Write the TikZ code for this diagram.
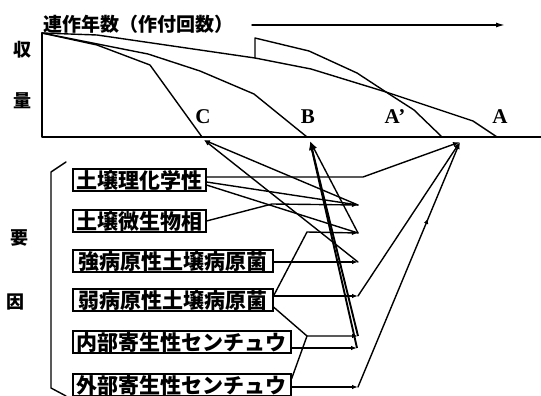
\documentclass[tikz,border=0pt]{standalone}
\usepackage{fontspec}
\newfontfamily\jp{Noto Sans CJK JP}
\newfontfamily\lser{Liberation Serif}
\usetikzlibrary{arrows.meta,decorations.markings}
\begin{document}
\begin{tikzpicture}[x=1pt,y=-1pt,
  ln/.style={line width=1.4pt,line join=round,line cap=round},
  arr/.style={ln,-{Latex[length=6pt,width=4.5pt]}},
  fbox/.style={draw,line width=1.5pt,inner sep=0pt,minimum height=22pt,
     text height=18.5pt,text depth=2.5pt,anchor=west,
     font=\jp\bfseries\fontsize{21}{21}\selectfont},
  jlab/.style={font=\jp\bfseries\fontsize{18}{18}\selectfont,inner sep=0pt},
  clab/.style={font=\lser\bfseries\fontsize{21}{21}\selectfont,inner sep=0pt},
  midup/.style={postaction={decorate},decoration={markings,
     mark=at position 0.69 with {\arrow{Latex[length=6pt,width=4.5pt]}}}}]
\useasboundingbox (0,0) rectangle (541,396);

% ---------- chart ----------
\node[anchor=west,font=\jp\bfseries\fontsize{19}{19}\selectfont,inner sep=0pt] (title) at (43,24) {連作年数（作付回数）};
\coordinate (ts) at (252,25);
\coordinate (te) at (505,25);
\draw[ln,-{Latex[length=9pt,width=5pt]}] (ts) -- (te);

\node[jlab] (shu) at (22,50) {収};
\node[jlab] (ryo) at (22,101) {量};

\coordinate (O) at (42,33);
\coordinate (X0) at (42,137);
\coordinate (X1) at (541,137);
\draw[ln] (O) -- (X0) -- (X1);

% curves
\draw[ln] (O) -- (97,35) -- (255,58) -- (311,69) -- (386,92) -- (473,121) -- (497,137);
\draw[ln] (255,58) -- (255,38) -- (309,51) -- (357,73) -- (386,92) -- (414,110) -- (442,137);
\draw[ln] (O) -- (148,54) -- (200,71) -- (254,94) -- (307,137);
\draw[ln] (O) -- (97,45) -- (150,65) -- (202,137);

\node[clab] (lC) at (203,117) {C};
\node[clab] (lB) at (308,117) {B};
\node[clab] (lAp) at (395,117) {A’};
\node[clab] (lA) at (500,117) {A};

% ---------- factors ----------
\node[jlab] (yo) at (19,238) {要};
\node[jlab] (in) at (15,302) {因};
\coordinate (k1) at (66,162);
\coordinate (k2) at (51,172);
\coordinate (k3) at (51,388);
\coordinate (k4) at (66,396);
\draw[ln] (k1) -- (k2) -- (k3) -- (k4);

\node[fbox,minimum width=133pt] (b1) at (72,180) {土壌理化学性};
\node[fbox,minimum width=133pt] (b2) at (72,221) {土壌微生物相};
\node[fbox,minimum width=200pt] (b3) at (72,261) {強病原性土壌病原菌};
\node[fbox,minimum width=200pt] (b4) at (72,300) {弱病原性土壌病原菌};
\node[fbox,minimum width=218pt] (b5) at (72,342) {内部寄生性センチュウ};
\node[fbox,minimum width=218pt] (b6) at (72,385) {外部寄生性センチュウ};

% target points on the baseline
\coordinate (Cs) at (204,140);
\coordinate (Bs) at (310,141);
\coordinate (As) at (460,142);

% arrow ends
\coordinate (P1) at (358,205);
\coordinate (P2) at (358,233);
\coordinate (P3) at (358,262);
\coordinate (P4) at (358,296);
\coordinate (P5) at (358,336);
\coordinate (P6) at (357,348);
\coordinate (P7) at (358,387);

% junctions
\coordinate (J2) at (272,204);
\coordinate (J4a) at (307,232);
\coordinate (J4b) at (307,336);
\coordinate (K1) at (363,177);

% horizontal arrows from the boxes
\draw[arr] (b2.east) -- (J2) -- (P1);
\draw[arr] (b4.east |- P4) -- (J4a) -- (P2);
\draw[arr] (b3.east |- P3) -- (P3);
\draw[arr] (b4.east |- P4) -- (P4);
\draw[arr] (b4.east |- 0,307) -- (J4b) -- (P5);
\draw[ln] (b6.east |- 0,379) -- (J4b);
\draw[arr] (b5.east |- P6) -- (P6);
\draw[arr] (b6.east |- P7) -- (P7);
\draw[ln] (b1.east |- 0,182) -- (P1);
\draw[ln] (b1.east |- 0,185) -- (P2);

% lines up to the curves' end points
\draw[ln,-{Latex[length=7pt,width=5pt]}] (b1.east |- K1) -- (K1) -- (As);
\draw[ln,-{Latex[length=7pt,width=5pt]}] (P4) -- (As);
\draw[ln,midup,-{Latex[length=7pt,width=5pt]}] (P7) -- (As);
\draw[ln,-{Latex[length=6pt,width=4.5pt]}] (P1) -- (Cs);
\draw[ln,-{Latex[length=6pt,width=4.5pt]}] (P3) -- (Cs);
\draw[ln,-{Latex[length=9pt,width=6pt]}] (P2) -- (Bs);
\draw[line width=1.9pt,-{Latex[length=9pt,width=6pt]}] (P5) -- (Bs);
\draw[line width=1.9pt,-{Latex[length=9pt,width=6pt]}] (P6) -- (Bs);
\end{tikzpicture}
\end{document}
